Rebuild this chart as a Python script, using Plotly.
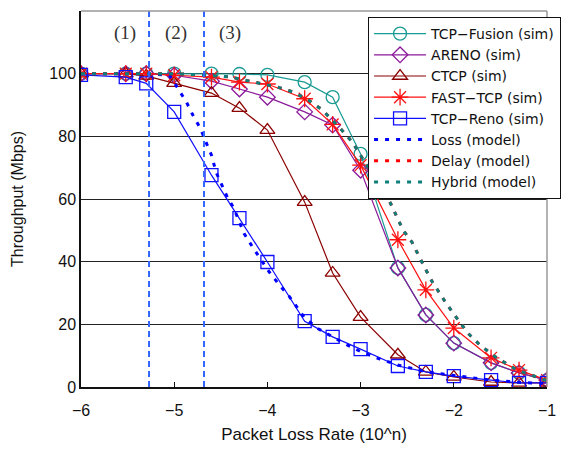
import plotly.graph_objects as go

# x positions: log10 of packet loss rate
x_sim = [-6, -5.52, -5.3, -5, -4.6, -4.3, -4, -3.6, -3.3, -3, -2.6, -2.3, -2, -1.6, -1.3, -1]

fusion = [100, 100, 100, 100, 100, 99.9, 99.6, 97.3, 92.5, 74.4, 38, 23, 14, 7.7, 4.5, 2.2]
areno = [100, 100, 100, 99.5, 97.6, 95.1, 92.5, 87.8, 83.6, 69.2, 38, 23, 14, 7.7, 4.5, 2.2]
ctcp = [100, 100, 99.3, 97, 93.8, 89, 82, 59, 36.4, 22.3, 10.3, 4.8, 3.2, 1.6, 1.3, 1.3]
fast = [100, 100, 100, 99.5, 98.9, 97.3, 96.7, 92, 83.8, 70.8, 47, 31, 18.8, 9.3, 5.4, 2.2]
reno = [99.6, 98.9, 96.9, 87.8, 67.6, 53.9, 39.9, 21, 16, 12.1, 6.7, 4.8, 3.5, 2.2, 1.3, 1.3]

loss_x = [-6, -5.5, -5.3, -5.05, -4.97, -4.87, -4.8, -4.72, -4.66, -4.6, -4.55, -4.5, -4.43,
          -4.36, -4.3, -4.25, -4.16, -4.07, -3.98, -3.87, -3.76, -3.6, -3.45, -3.3, -3.15,
          -3.0, -2.8, -2.6, -2.3, -2.0, -1.6, -1.3, -1.0]
loss_y = [100, 100, 100, 99.5, 95.7, 91, 86.8, 82.6, 78.2, 74, 68.5, 65, 60.6,
          57, 52.3, 49, 44.7, 40.5, 36.7, 32.5, 28.7, 22, 18.5, 16, 13.5,
          11.3, 9, 7, 4.9, 3.7, 2.2, 1.5, 1.1]

hybrid_x = [-6, -5.5, -5.0, -4.7, -4.4, -4.19, -3.89, -3.72, -3.56, -3.41, -3.22, -3.09, -2.92,
            -2.8, -2.68, -2.545, -2.45, -2.31, -2.23, -2.07, -1.97, -1.85, -1.72, -1.54,
            -1.32, -1.0]
hybrid_y = [100, 100, 100, 99.6, 99, 97.6, 95.7, 94.1, 91.6, 88.4, 82.6, 78.2, 70.2,
            64.5, 58.7, 50.1, 46.3, 38, 33.5, 26.2, 22, 17.2, 13.4, 9.3,
            5.4, 2.0]

# delay model is hidden beneath the hybrid model in the reference
delay_x = hybrid_x
delay_y = hybrid_y

region_lines = [-5.27, -4.68]
region_labels = ["(1)", "(2)", "(3)"]
region_label_x = [-5.53, -4.98, -4.40]

x_ticks = [-6, -5, -4, -3, -2, -1]
y_ticks = [0, 20, 40, 60, 80, 100, 120]

fig = go.Figure()

def sim(name, y, color, symbol, size, lw=1.2):
    fig.add_trace(go.Scatter(
        x=x_sim, y=y, name=name, mode="lines+markers",
        line=dict(color=color, width=lw),
        marker=dict(symbol=symbol, size=size, color=color,
                    line=dict(color=color, width=1.3)),
    ))

sim("TCP−Fusion (sim)", fusion, "#1A9A94", "circle-open", 13)
sim("ARENO (sim)", areno, "#8B1A9B", "diamond-open", 12)
sim("CTCP (sim)", ctcp, "#8B0000", "triangle-up-open", 13)
sim("FAST−TCP (sim)", fast, "#FF1010", "asterisk-open", 14)
sim("TCP−Reno (sim)", reno, "#1010FF", "square-open", 13)

fig.add_trace(go.Scatter(x=loss_x, y=loss_y, name="Loss (model)", mode="lines",
                         line=dict(color="#0000FF", width=3, dash="4px,7px")))
fig.add_trace(go.Scatter(x=delay_x, y=delay_y, name="Delay (model)", mode="lines",
                         line=dict(color="#FF0000", width=3, dash="4px,7px")))
fig.add_trace(go.Scatter(x=hybrid_x, y=hybrid_y, name="Hybrid (model)", mode="lines",
                         line=dict(color="#0E7F7A", width=3, dash="4px,7px")))

for xv in region_lines:
    fig.add_shape(type="line", x0=xv, x1=xv, y0=0, y1=120, xref="x", yref="y",
                  line=dict(color="#3366FF", width=2, dash="6px,4px"), layer="above")

for lab, xv in zip(region_labels, region_label_x):
    fig.add_annotation(x=xv, y=113, text=lab, showarrow=False, xref="x", yref="y",
                       font=dict(family="Liberation Serif", size=19, color="#333333"))

# frame top/right in gray
fig.add_shape(type="line", x0=0, x1=1, y0=1, y1=1, xref="paper", yref="paper",
              line=dict(color="#999999", width=1.5), layer="above")
fig.add_shape(type="line", x0=1, x1=1, y0=0, y1=1, xref="paper", yref="paper",
              line=dict(color="#999999", width=1.5), layer="above")

fig.update_layout(
    width=582, height=455,
    margin=dict(l=73, r=43, t=3, b=76),
    paper_bgcolor="white", plot_bgcolor="white",
    font=dict(family="Liberation Sans", size=16, color="#111111"),
    showlegend=True,
    legend=dict(x=0.616, y=0.984, xanchor="left", yanchor="top",
                bgcolor="white", bordercolor="#111111", borderwidth=1,
                font=dict(family="DejaVu Sans", size=14), itemwidth=52, tracegroupgap=0,
                itemclick=False),
)
fig.update_xaxes(range=[-6, -1], tickvals=x_ticks, showgrid=False, zeroline=False,
                 showline=True, linecolor="#111111", linewidth=1.5,
                 ticks="inside", ticklen=5, tickcolor="#111111",
                 tickfont=dict(size=16), ticklabelstandoff=8,
                 title=dict(text="Packet Loss Rate (10^n)", font=dict(size=17), standoff=10))
fig.update_yaxes(range=[0, 120], tickvals=y_ticks, showgrid=True, gridcolor="#222222",
                 gridwidth=1, zeroline=False, showline=True, linecolor="#111111",
                 linewidth=1.5, tickfont=dict(size=16),
                 title=dict(text="Throughput (Mbps)", font=dict(size=16), standoff=22))

fig.write_html("out.html")
